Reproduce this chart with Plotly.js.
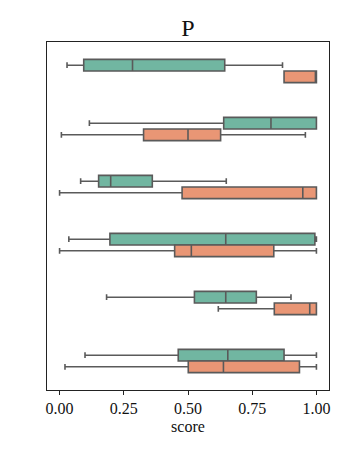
<!DOCTYPE html>
<html>
<head>
<meta charset="utf-8">
<script src="https://cdn.plot.ly/plotly-3.0.1.min.js"></script>
<style>
  html, body { margin: 0; padding: 0; background: #fff; }
  #chart { width: 348px; height: 455px; }
</style>
</head>
<body>
<div id="chart"></div>
<script>
// rows top to bottom
var rows = ['r1', 'r2', 'r3', 'r4', 'r5', 'r6'];

// green group
var greenLow  = [0.029, 0.116, 0.082, 0.036, 0.183, 0.099];
var greenQ1   = [0.094, 0.639, 0.152, 0.196, 0.525, 0.462];
var greenMed  = [0.284, 0.823, 0.199, 0.647, 0.647, 0.655];
var greenQ3   = [0.643, 1.000, 0.361, 0.994, 0.766, 0.874];
var greenHigh = [0.868, 1.000, 0.649, 1.000, 0.901, 1.000];

// orange group
var orangeLow  = [0.874, 0.007, 0.000, 0.000, 0.618, 0.021];
var orangeQ1   = [0.874, 0.327, 0.477, 0.448, 0.836, 0.501];
var orangeMed  = [1.000, 0.500, 0.947, 0.513, 0.974, 0.638];
var orangeQ3   = [1.000, 0.627, 1.000, 0.834, 1.000, 0.934];
var orangeHigh = [1.000, 0.957, 1.000, 1.000, 1.000, 1.000];

var lineColor = 'rgb(90,90,90)';

var green = {
  type: 'box', orientation: 'h', name: 'green',
  y: rows,
  lowerfence: greenLow, q1: greenQ1, median: greenMed, q3: greenQ3, upperfence: greenHigh,
  fillcolor: 'rgb(113,182,161)',
  line: { color: lineColor, width: 1.6 },
  whiskerwidth: 0.5,
  hoverinfo: 'none'
};

var orange = {
  type: 'box', orientation: 'h', name: 'orange',
  y: rows,
  lowerfence: orangeLow, q1: orangeQ1, median: orangeMed, q3: orangeQ3, upperfence: orangeHigh,
  fillcolor: 'rgb(233,150,117)',
  line: { color: lineColor, width: 1.6 },
  whiskerwidth: 0.5,
  hoverinfo: 'none'
};

var serif = 'Liberation Serif, DejaVu Serif, serif';

var layout = {
  width: 348, height: 455,
  margin: { l: 47, r: 19, t: 42, b: 65 },
  paper_bgcolor: '#fff', plot_bgcolor: '#fff',
  showlegend: false,
  boxmode: 'group', boxgap: 0.6, boxgroupgap: 0,
  font: { family: serif, color: '#111', size: 16 },
  title: { text: 'P', font: { family: serif, size: 24, color: '#111' }, x: 0.54, xanchor: 'center', y: 0.92, yanchor: 'bottom' },
  xaxis: {
    range: [-0.049, 1.049],
    tickvals: [0, 0.25, 0.5, 0.75, 1],
    ticktext: ['0.00', '0.25', '0.50', '0.75', '1.00'],
    ticks: 'outside', ticklen: 4, tickcolor: '#222',
    showgrid: false, zeroline: false,
    showline: true, mirror: true, linecolor: '#222', linewidth: 1,
    title: { text: 'score', font: { family: serif, size: 16 }, standoff: 4 }
  },
  yaxis: {
    categoryorder: 'array', categoryarray: rows,
    range: [5.5, -0.5],
    showticklabels: false, ticks: '',
    showgrid: false, zeroline: false,
    showline: true, mirror: true, linecolor: '#222', linewidth: 1
  }
};

Plotly.newPlot('chart', [green, orange], layout, { staticPlot: true });
</script>
</body>
</html>
